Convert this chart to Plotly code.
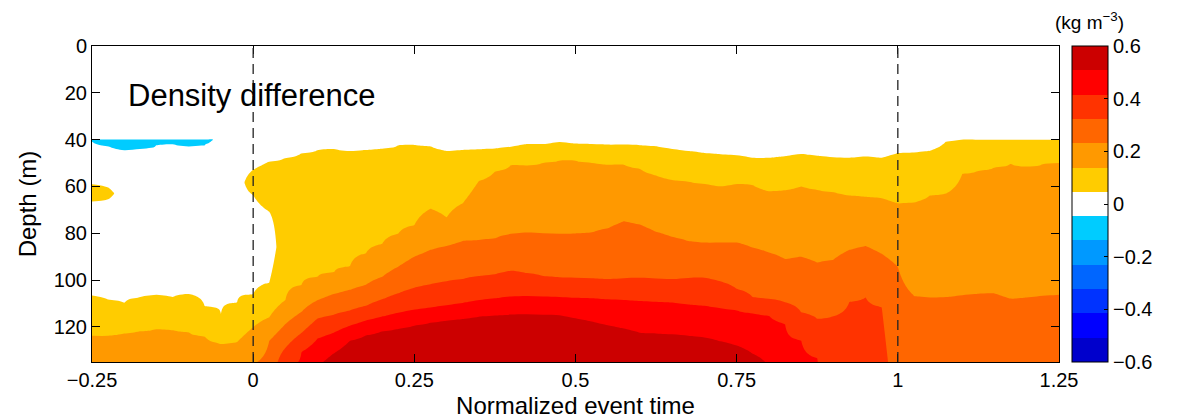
import numpy as np
import plotly.graph_objects as go

N = None

# Normalized event time of each sampled profile
time = [-0.25, -0.225, -0.2, -0.175, -0.15, -0.125, -0.1, -0.075, -0.05, -0.025,
        0.0, 0.025, 0.05, 0.075, 0.1, 0.125, 0.15, 0.175, 0.2, 0.225,
        0.25, 0.275, 0.3, 0.325, 0.35, 0.375, 0.4, 0.425, 0.45, 0.475,
        0.5, 0.525, 0.55, 0.575, 0.6, 0.625, 0.65, 0.675, 0.7, 0.725,
        0.75, 0.775, 0.8, 0.825, 0.85, 0.875, 0.9, 0.925, 0.95, 0.975,
        1.0, 1.025, 1.05, 1.075, 1.1, 1.125, 1.15, 1.175, 1.2, 1.225, 1.25]

# Depth (m) of the lower edge of the negative (cyan) patch near the top
cyan_bottom = [40.7, 42.8, 44.5, 43.8, 42.1, 41.8, 42.6, 42.1] + [N] * 53

# Isolated positive patch above the white (near-zero) region
blob_top = [59.1, 60.5] + [N] * 8 + [52.9, 49.4] + [N] * 49
blob_bottom = [66.2, 65.5] + [N] * 8 + [63.7, 70.8] + [N] * 49

# Depth (m) at which the density difference crosses each contour level
depth_005 = [106.7, 108.4, 109.9, 107.4, 106.4, 107.4, 106.0, 111.3, 114.5, 109.5,
             106.0, 101.0, 47.8, 45.8, 44.4, 44.0, 44.7, 44.3, 43.8, 42.4,
             42.1, 42.8, 44.7, 44.3, 44.1, 43.8, 43.0, 41.8, 41.8, 41.0,
             41.6, 41.8, 42.1, 42.1, 42.3, 42.8, 44.0, 44.8, 45.7, 46.2,
             46.7, 47.8, 47.8, 47.1, 46.1, 46.9, 47.5, 47.7, 47.2, 47.7,
             45.7, 45.5, 44.7, 40.7, 39.5, 39.5, 39.5, 39.5, 39.5, 39.5, 39.5]
depth_015 = [123.7, 123.7, 122.7, 121.8, 121.0, 121.3, 122.3, 124.1, 127.2, 126.5,
             120.1, 115.9, 108.5, 102.0, 98.5, 96.8, 94.2, 88.5, 84.6, 80.2,
             76.5, 69.6, 73.3, 67.2, 57.7, 53.6, 50.9, 51.0, 49.9, 48.9,
             49.0, 49.9, 50.6, 50.6, 52.5, 55.3, 57.2, 58.0, 58.9, 59.9,
             58.9, 59.4, 62.0, 61.6, 59.9, 61.5, 62.4, 63.8, 64.4, 65.0,
             67.2, 66.8, 63.8, 63.0, 54.6, 53.2, 51.8, 50.2, 51.5, 50.4, 49.9]
depth_025 = [N, N, N, N, N, N, N, N, N, N,
             136.0, 126.0, 118.8, 113.6, 108.6, 106.0, 104.2, 102.0, 98.6, 94.3,
             90.0, 87.1, 85.4, 83.3, 82.9, 82.2, 80.3, 79.7, 80.0, 80.3,
             80.1, 79.6, 77.9, 74.9, 76.3, 79.4, 81.6, 83.4, 84.0, 84.0,
             84.0, 86.1, 88.2, 91.1, 90.1, 92.5, 91.3, 87.1, 85.4, 88.8,
             94.3, 106.7, 107.4, 107.2, 106.5, 105.8, 105.7, 107.9, 107.4, 106.7, 106.2]
depth_035 = [N] * 12 + [129.0, 122.6, 116.4, 114.8, 113.0, 111.0, 108.2, 105.7,
             103.3, 101.8, 100.5, 99.5, 98.3, 97.5, 96.0, 97.0, 98.3, 98.9,
             99.0, 99.3, 99.6, 99.3, 99.1, 99.4, 99.6, 99.1, 99.0, 100.6,
             103.8, 107.4, 108.1, 109.5, 113.8, 116.5, 115.5, 109.2, 107.4, 111.6] + [N] * 11
depth_045 = [N] * 12 + [137.0, 130.7, 125.0, 122.5, 119.5, 117.3, 115.6, 114.0,
             112.6, 111.8, 110.8, 109.8, 108.6, 107.8, 107.0, 106.8, 107.0, 107.2,
             107.6, 107.8, 108.2, 108.5, 108.9, 109.2, 109.6, 110.4, 111.0, 112.0,
             113.0, 114.2, 115.2, 118.7, 125.8, 133.4] + [N] * 15
depth_055 = [N] * 14 + [137.0, 131.3, 126.0, 123.6, 121.9, 120.8,
             119.5, 118.2, 117.3, 116.6, 115.6, 115.1, 114.7, 114.6, 114.8, 115.0,
             116.3, 117.7, 119.3, 120.7, 122.5, 122.8, 123.2, 123.8, 124.5, 126.2,
             128.0, 131.5, 137.0] + [N] * 18

band_colors = ["#0000CC", "#0000FF", "#0033FF", "#0066FF", "#0099FF", "#00CCFF",
               "#FFFFFF", "#FFCC00", "#FF9900", "#FF6600", "#FF3300", "#FF0000", "#CC0000"]
cbar_ticks = [-0.6, -0.4, -0.2, 0, 0.2, 0.4, 0.6]
cbar_labels = ["\u22120.6", "\u22120.4", "\u22120.2", "0", "0.2", "0.4", "0.6"]
x_ticks = [-0.25, 0, 0.25, 0.5, 0.75, 1, 1.25]
x_labels = ["\u22120.25", "0", "0.25", "0.5", "0.75", "1", "1.25"]
y_ticks = [0, 20, 40, 60, 80, 100, 120]
event_marks = [0, 1]

# ---- build the gridded field from the read contour depths ----
CS = 1.2 / 13
LEVELS = [(k + 0.5) * CS for k in range(6)]
NEG = -0.5 * CS
D_TOP, D_BOT = 40.0, 135.0
boundaries = [depth_005, depth_015, depth_025, depth_035, depth_045, depth_055]
data_depths = np.arange(D_TOP, D_BOT + 0.01, 0.5)


def column(i):
    pts = []
    if cyan_bottom[i] is not None:
        pts += [(D_TOP - 1, NEG - 0.07), (cyan_bottom[i], NEG)]
    if blob_top[i] is not None:
        bt, bb = blob_top[i], blob_bottom[i]
        pts += [(bt, LEVELS[0]), ((bt + bb) / 2, LEVELS[0] + 0.04), (bb, LEVELS[0]),
                ((bb + depth_005[i]) / 2, 0.0)]
    for k, arr in enumerate(boundaries):
        d = arr[i]
        if d is None:
            d = D_BOT + 10 * (k + 1)
        pts.append((d, LEVELS[k]))
    pts.append((pts[-1][0] + 10, LEVELS[-1] + 0.08))
    if pts[0][0] > D_TOP:
        pts.insert(0, (D_TOP - 1, 0.0))
    xp = [p[0] for p in pts]
    fp = [p[1] for p in pts]
    return np.interp(data_depths, xp, fp)


Z_data = np.column_stack([column(i) for i in range(len(time))])
# no data above 40 m: pad with a neutral (white) band up to the surface
depths = np.concatenate([[0.0, D_TOP - 0.02], data_depths])
Z = np.vstack([np.zeros((2, len(time))), Z_data])

fill_scale = [[k / 12, c] for k, c in enumerate(band_colors)]
step_scale = []
for k, c in enumerate(band_colors):
    step_scale += [[k / 13, c], [(k + 1) / 13, c]]

FONT = "Liberation Sans, Arial, Helvetica, sans-serif"

fig = go.Figure()
fig.add_trace(go.Contour(
    x=time, y=depths, z=Z,
    autocontour=False,
    contours=dict(start=LEVELS[0] - 6 * CS, end=LEVELS[-1], size=CS,
                  coloring="fill", showlines=False),
    colorscale=fill_scale, showscale=False,
    line=dict(width=0), hoverinfo="skip",
))

fig.add_trace(go.Scatter(
    x=[None], y=[None], mode="markers", hoverinfo="skip", showlegend=False,
    marker=dict(color=[0], colorscale=step_scale, cmin=-0.6, cmax=0.6, showscale=True,
                colorbar=dict(x=1.0134, xanchor="left", xpad=0, y=0.5, yanchor="middle",
                              len=1, lenmode="fraction", ypad=0, thickness=36,
                              outlinewidth=1, outlinecolor="black",
                              ticks="inside", ticklen=4, tickcolor="black",
                              tickvals=cbar_ticks, ticktext=cbar_labels,
                              tickfont=dict(size=20, family=FONT, color="black"))),
))

for xm in event_marks:
    fig.add_shape(type="line", xref="x", yref="paper", x0=xm, x1=xm, y0=0, y1=1,
                  line=dict(color="#222222", width=1.3, dash="10px,6px"))

fig.add_annotation(x=-0.198, y=21, xref="x", yref="y", text="Density difference",
                   showarrow=False, xanchor="left", yanchor="middle",
                   font=dict(size=31, family=FONT, color="black"))
fig.add_annotation(x=1.032, y=1.079, xref="paper", yref="paper",
                   text="(kg m<sup>\u22123</sup>)", showarrow=False,
                   xanchor="center", yanchor="middle",
                   font=dict(size=19, family=FONT, color="black"))

# the page body adds an 8 px offset; size the figure so the plot lands in place
fig.update_layout(
    width=1175, height=411,
    margin=dict(l=84, r=124, t=38, b=57, autoexpand=False),
    paper_bgcolor="white", plot_bgcolor="white", showlegend=False,
    font=dict(family=FONT, size=20, color="black"),
    xaxis=dict(range=[-0.25, 1.25], tickmode="array", tickvals=x_ticks, ticktext=x_labels,
               ticks="inside", ticklen=8, tickcolor="black", showline=True,
               linecolor="black", linewidth=1, mirror="ticks", showgrid=False,
               zeroline=False, automargin=False,
               title=dict(text="Normalized event time", standoff=7),
               tickfont=dict(size=20)),
    yaxis=dict(range=[135, 0], tickmode="array", tickvals=y_ticks,
               ticks="inside", ticklen=8, tickcolor="black", showline=True,
               linecolor="black", linewidth=1, mirror="ticks", showgrid=False,
               zeroline=False, automargin=False,
               title=dict(text="Depth (m)", standoff=10),
               tickfont=dict(size=20)),
)

fig.write_html("out.html")
